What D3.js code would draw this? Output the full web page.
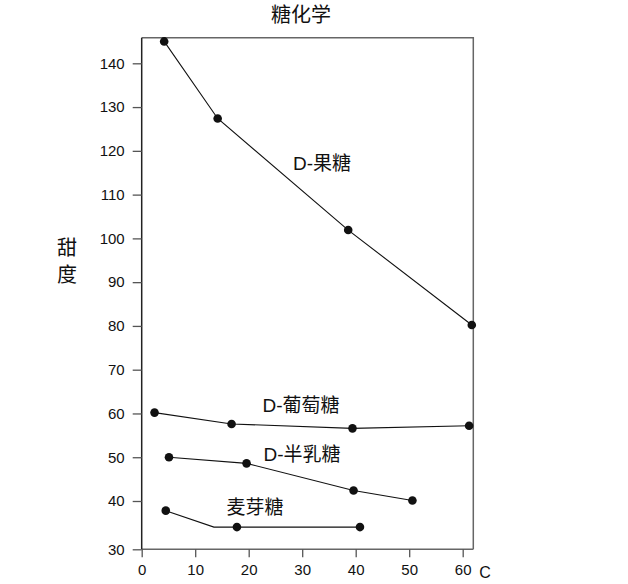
<!DOCTYPE html>
<html><head><meta charset="utf-8">
<script src="https://cdn.jsdelivr.net/npm/d3@7"></script>
<style>
html,body{margin:0;padding:0;background:#fff;}
text{font-family:"Liberation Sans","Noto Sans CJK SC",sans-serif;fill:#111;}
</style></head>
<body><svg id="c" width="628" height="584"></svg>
<script>
const title = "糖化学";
const yLabel = ["甜","度"];
const xUnit = "C";
const xTicks = [0,10,20,30,40,50,60];
const yTicks = [30,40,50,60,70,80,90,100,110,120,130,140];

const fructoseX = [4.2, 14.2, 38.6, 61.7];
const fructoseY = [145, 127.4, 101.9, 80.2];
const glucoseX = [2.4, 16.8, 39.4, 61.2];
const glucoseY = [60.2, 57.6, 56.6, 57.2];
const galactoseX = [5.1, 19.6, 39.6, 50.6];
const galactoseY = [50.0, 48.6, 42.4, 40.1];
const maltoseX = [4.5, 13.5, 17.8, 40.8];
const maltoseY = [38.0, 34.6, 34.6, 34.6];
const maltoseMarker = [true, false, true, true];

const seriesNames = ["D-果糖","D-葡萄糖","D-半乳糖","麦芽糖"];

const series = [
  {name: seriesNames[0], xs: fructoseX, ys: fructoseY, lx: 322, ly: 163},
  {name: seriesNames[1], xs: glucoseX, ys: glucoseY, lx: 301, ly: 405},
  {name: seriesNames[2], xs: galactoseX, ys: galactoseY, lx: 302, ly: 454},
  {name: seriesNames[3], xs: maltoseX, ys: maltoseY, marks: maltoseMarker, lx: 255, ly: 507}
];

const svg = d3.select("#c");
const L = 141.7, R = 473.3, T = 37.7, B = 549.3;
const x = d3.scaleLinear().domain([0, 62]).range([L, L + 62*5.35]);
const y = d3.scaleLinear().domain([30, 40, 145.85]).range([B, 501, T]);

// frame top/right
svg.append("path")
  .attr("d", `M${L},${T}H${R}V${B}`)
  .attr("fill","none").attr("stroke","#666").attr("stroke-width",1.5);

const gx = svg.append("g").attr("transform",`translate(0,${B})`)
  .call(d3.axisBottom(x).tickValues(xTicks).tickSize(8).tickPadding(7).tickSizeOuter(0));
gx.select(".domain").attr("d",`M${L},0H${R}`).attr("stroke","#666").attr("stroke-width",1.5);
gx.selectAll(".tick line").attr("stroke","#555").attr("stroke-width",1.3);
gx.selectAll(".tick text").style("font-size","15px").attr("fill","#111");

const gy = svg.append("g").attr("transform",`translate(${L},0)`)
  .call(d3.axisLeft(y).tickValues(yTicks).tickSize(9).tickPadding(8).tickSizeOuter(0));
gy.select(".domain").attr("d",`M0,${B}V${T}`).attr("stroke","#222").attr("stroke-width",1.5);
gy.selectAll(".tick line").attr("stroke","#555").attr("stroke-width",1.3);
gy.selectAll(".tick text").style("font-size","15px").attr("fill","#111");

svg.append("text").attr("x", 485).attr("y", 572).attr("text-anchor","middle")
  .attr("dominant-baseline","central").style("font-size","16px").text(xUnit);

svg.append("text").attr("x", 301).attr("y", 15).attr("text-anchor","middle")
  .attr("dominant-baseline","central").style("font-size","20px").text(title);

yLabel.forEach((c,i)=>{
  svg.append("text").attr("x", 67).attr("y", 248 + i*27).attr("text-anchor","middle")
    .attr("dominant-baseline","central").style("font-size","20px").text(c);
});

const line = d3.line().x(d=>x(d[0])).y(d=>y(d[1]));
series.forEach(s=>{
  const pts = s.xs.map((v,i)=>[v, s.ys[i], s.marks ? s.marks[i] : true]);
  svg.append("path").attr("d", line(pts)).attr("fill","none")
    .attr("stroke","#111").attr("stroke-width",1.1);
  svg.selectAll(null).data(pts.filter(p=>p[2])).enter().append("circle")
    .attr("cx",d=>x(d[0])).attr("cy",d=>y(d[1])).attr("r",4.3).attr("fill","#111");
  svg.append("text").attr("x", s.lx).attr("y", s.ly).attr("text-anchor","middle")
    .attr("dominant-baseline","central").style("font-size","19px").text(s.name);
});
</script></body></html>
